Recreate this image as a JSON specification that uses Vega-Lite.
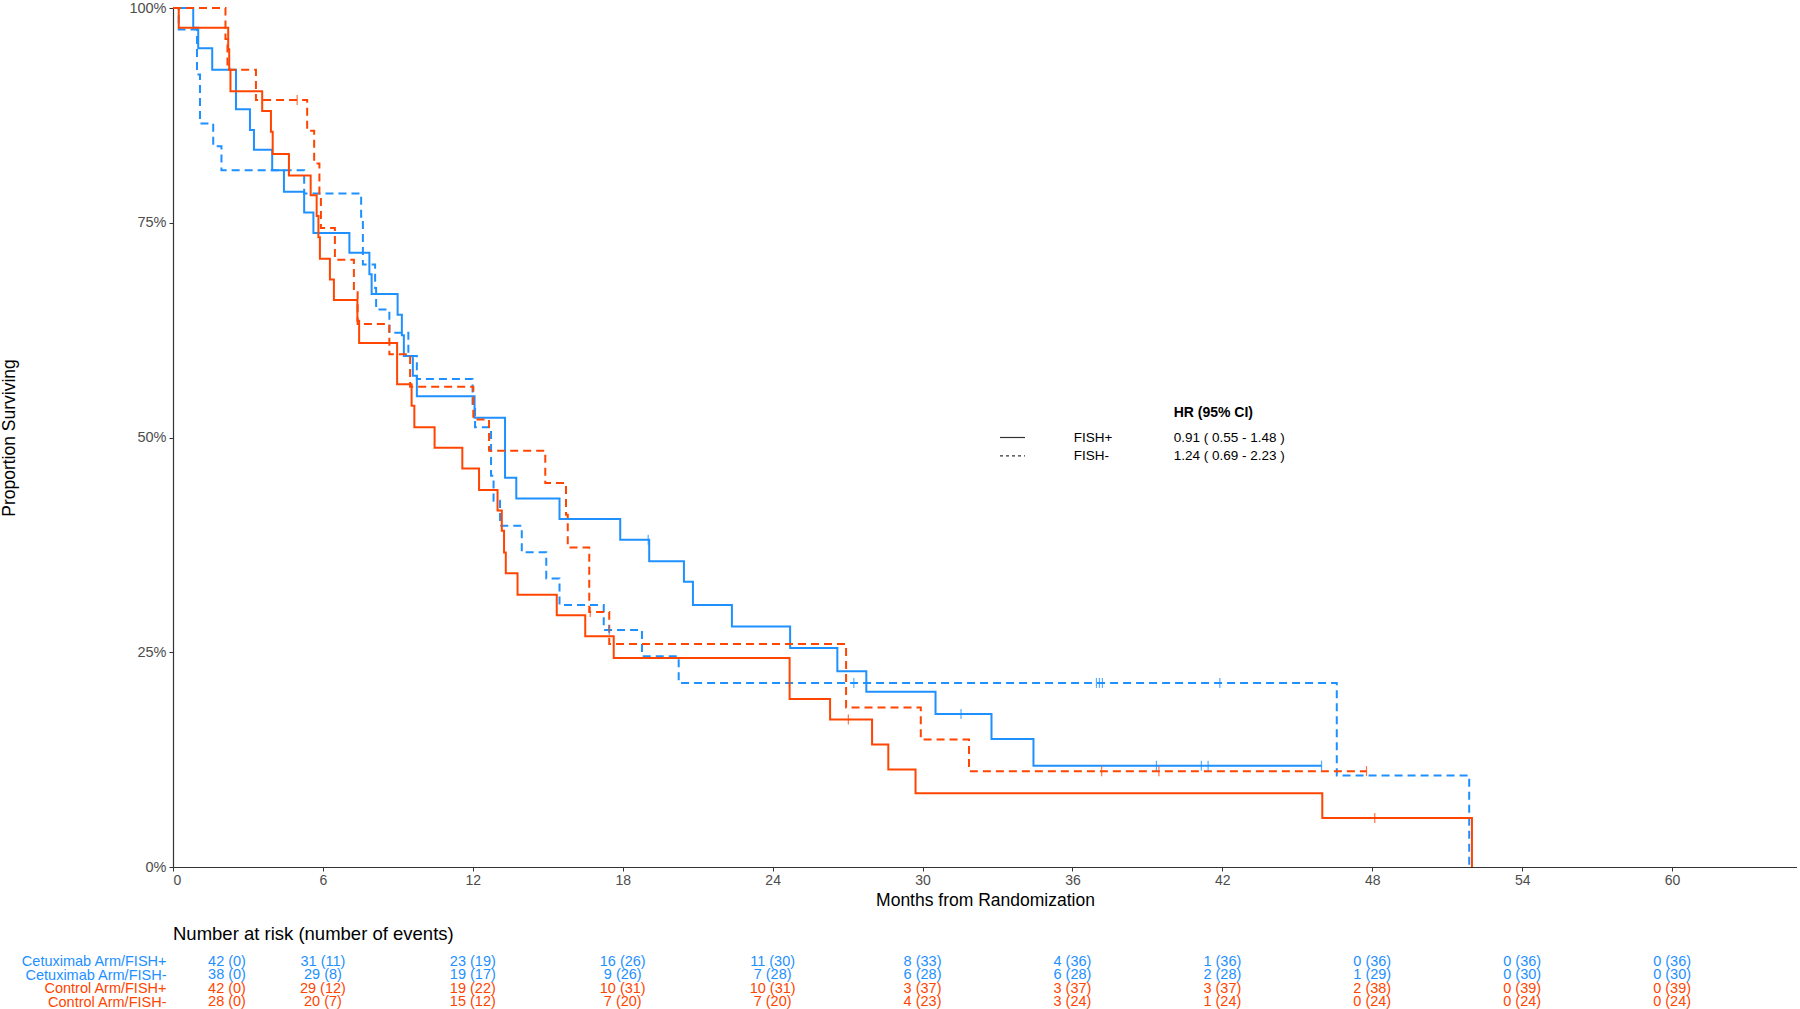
{
  "$schema": "https://vega.github.io/schema/vega-lite/v6.json",
  "padding": 0,
  "background": "white",
  "config": {
    "font": "Liberation Sans",
    "view": {"stroke": null},
    "axis": {"grid": false, "domainColor": "#333333", "tickColor": "#333333", "labelColor": "#4d4d4d", "titleColor": "#000000", "titleFontWeight": "normal"},
    "concat": {"spacing": 16}
  },
  "datasets": {
    "km": [
      {"arm": "Cetuximab Arm", "fish": "FISH+", "month": 0, "surv": 1},
      {"arm": "Cetuximab Arm", "fish": "FISH+", "month": 0.81, "surv": 0.977},
      {"arm": "Cetuximab Arm", "fish": "FISH+", "month": 1.01, "surv": 0.953},
      {"arm": "Cetuximab Arm", "fish": "FISH+", "month": 1.57, "surv": 0.928},
      {"arm": "Cetuximab Arm", "fish": "FISH+", "month": 2.52, "surv": 0.882},
      {"arm": "Cetuximab Arm", "fish": "FISH+", "month": 3.08, "surv": 0.858},
      {"arm": "Cetuximab Arm", "fish": "FISH+", "month": 3.24, "surv": 0.835},
      {"arm": "Cetuximab Arm", "fish": "FISH+", "month": 3.97, "surv": 0.811},
      {"arm": "Cetuximab Arm", "fish": "FISH+", "month": 4.44, "surv": 0.786},
      {"arm": "Cetuximab Arm", "fish": "FISH+", "month": 5.25, "surv": 0.762},
      {"arm": "Cetuximab Arm", "fish": "FISH+", "month": 5.62, "surv": 0.738},
      {"arm": "Cetuximab Arm", "fish": "FISH+", "month": 7.06, "surv": 0.715},
      {"arm": "Cetuximab Arm", "fish": "FISH+", "month": 7.86, "surv": 0.69},
      {"arm": "Cetuximab Arm", "fish": "FISH+", "month": 7.95, "surv": 0.667},
      {"arm": "Cetuximab Arm", "fish": "FISH+", "month": 8.99, "surv": 0.643},
      {"arm": "Cetuximab Arm", "fish": "FISH+", "month": 9.16, "surv": 0.619},
      {"arm": "Cetuximab Arm", "fish": "FISH+", "month": 9.24, "surv": 0.595},
      {"arm": "Cetuximab Arm", "fish": "FISH+", "month": 9.6, "surv": 0.572},
      {"arm": "Cetuximab Arm", "fish": "FISH+", "month": 9.76, "surv": 0.548},
      {"arm": "Cetuximab Arm", "fish": "FISH+", "month": 12.07, "surv": 0.523},
      {"arm": "Cetuximab Arm", "fish": "FISH+", "month": 13.29, "surv": 0.453},
      {"arm": "Cetuximab Arm", "fish": "FISH+", "month": 13.74, "surv": 0.429},
      {"arm": "Cetuximab Arm", "fish": "FISH+", "month": 15.47, "surv": 0.405},
      {"arm": "Cetuximab Arm", "fish": "FISH+", "month": 17.9, "surv": 0.381},
      {"arm": "Cetuximab Arm", "fish": "FISH+", "month": 19.06, "surv": 0.356},
      {"arm": "Cetuximab Arm", "fish": "FISH+", "month": 20.45, "surv": 0.332},
      {"arm": "Cetuximab Arm", "fish": "FISH+", "month": 20.81, "surv": 0.305},
      {"arm": "Cetuximab Arm", "fish": "FISH+", "month": 22.37, "surv": 0.28},
      {"arm": "Cetuximab Arm", "fish": "FISH+", "month": 24.7, "surv": 0.255},
      {"arm": "Cetuximab Arm", "fish": "FISH+", "month": 26.59, "surv": 0.228},
      {"arm": "Cetuximab Arm", "fish": "FISH+", "month": 27.75, "surv": 0.204},
      {"arm": "Cetuximab Arm", "fish": "FISH+", "month": 30.52, "surv": 0.178},
      {"arm": "Cetuximab Arm", "fish": "FISH+", "month": 32.76, "surv": 0.149},
      {"arm": "Cetuximab Arm", "fish": "FISH+", "month": 34.44, "surv": 0.118},
      {"arm": "Cetuximab Arm", "fish": "FISH+", "month": 45.97, "surv": 0.118},
      {"arm": "Cetuximab Arm", "fish": "FISH-", "month": 0, "surv": 1},
      {"arm": "Cetuximab Arm", "fish": "FISH-", "month": 0.23, "surv": 0.975},
      {"arm": "Cetuximab Arm", "fish": "FISH-", "month": 0.96, "surv": 0.9225},
      {"arm": "Cetuximab Arm", "fish": "FISH-", "month": 1.08, "surv": 0.8655},
      {"arm": "Cetuximab Arm", "fish": "FISH-", "month": 1.61, "surv": 0.839},
      {"arm": "Cetuximab Arm", "fish": "FISH-", "month": 1.94, "surv": 0.811},
      {"arm": "Cetuximab Arm", "fish": "FISH-", "month": 5.25, "surv": 0.784},
      {"arm": "Cetuximab Arm", "fish": "FISH-", "month": 7.53, "surv": 0.757},
      {"arm": "Cetuximab Arm", "fish": "FISH-", "month": 7.6, "surv": 0.7015},
      {"arm": "Cetuximab Arm", "fish": "FISH-", "month": 8.09, "surv": 0.674},
      {"arm": "Cetuximab Arm", "fish": "FISH-", "month": 8.13, "surv": 0.649},
      {"arm": "Cetuximab Arm", "fish": "FISH-", "month": 8.66, "surv": 0.622},
      {"arm": "Cetuximab Arm", "fish": "FISH-", "month": 9.42, "surv": 0.595},
      {"arm": "Cetuximab Arm", "fish": "FISH-", "month": 9.76, "surv": 0.568},
      {"arm": "Cetuximab Arm", "fish": "FISH-", "month": 11.99, "surv": 0.539},
      {"arm": "Cetuximab Arm", "fish": "FISH-", "month": 12.09, "surv": 0.512},
      {"arm": "Cetuximab Arm", "fish": "FISH-", "month": 12.73, "surv": 0.4555},
      {"arm": "Cetuximab Arm", "fish": "FISH-", "month": 12.83, "surv": 0.4264},
      {"arm": "Cetuximab Arm", "fish": "FISH-", "month": 13.09, "surv": 0.3973},
      {"arm": "Cetuximab Arm", "fish": "FISH-", "month": 13.96, "surv": 0.3663},
      {"arm": "Cetuximab Arm", "fish": "FISH-", "month": 14.94, "surv": 0.336},
      {"arm": "Cetuximab Arm", "fish": "FISH-", "month": 15.47, "surv": 0.305},
      {"arm": "Cetuximab Arm", "fish": "FISH-", "month": 17.24, "surv": 0.276},
      {"arm": "Cetuximab Arm", "fish": "FISH-", "month": 18.77, "surv": 0.2453},
      {"arm": "Cetuximab Arm", "fish": "FISH-", "month": 20.24, "surv": 0.2143},
      {"arm": "Cetuximab Arm", "fish": "FISH-", "month": 46.58, "surv": 0.1066},
      {"arm": "Cetuximab Arm", "fish": "FISH-", "month": 51.88, "surv": 0},
      {"arm": "Control Arm", "fish": "FISH+", "month": 0, "surv": 1},
      {"arm": "Control Arm", "fish": "FISH+", "month": 0.23, "surv": 0.977},
      {"arm": "Control Arm", "fish": "FISH+", "month": 2.21, "surv": 0.952},
      {"arm": "Control Arm", "fish": "FISH+", "month": 2.25, "surv": 0.928},
      {"arm": "Control Arm", "fish": "FISH+", "month": 2.3, "surv": 0.903},
      {"arm": "Control Arm", "fish": "FISH+", "month": 3.57, "surv": 0.88},
      {"arm": "Control Arm", "fish": "FISH+", "month": 3.92, "surv": 0.856},
      {"arm": "Control Arm", "fish": "FISH+", "month": 3.99, "surv": 0.83},
      {"arm": "Control Arm", "fish": "FISH+", "month": 4.64, "surv": 0.805},
      {"arm": "Control Arm", "fish": "FISH+", "month": 5.51, "surv": 0.782},
      {"arm": "Control Arm", "fish": "FISH+", "month": 5.75, "surv": 0.758},
      {"arm": "Control Arm", "fish": "FISH+", "month": 5.82, "surv": 0.733},
      {"arm": "Control Arm", "fish": "FISH+", "month": 5.88, "surv": 0.708},
      {"arm": "Control Arm", "fish": "FISH+", "month": 6.28, "surv": 0.684},
      {"arm": "Control Arm", "fish": "FISH+", "month": 6.44, "surv": 0.66},
      {"arm": "Control Arm", "fish": "FISH+", "month": 7.38, "surv": 0.636},
      {"arm": "Control Arm", "fish": "FISH+", "month": 7.45, "surv": 0.61},
      {"arm": "Control Arm", "fish": "FISH+", "month": 8.97, "surv": 0.562},
      {"arm": "Control Arm", "fish": "FISH+", "month": 9.55, "surv": 0.537},
      {"arm": "Control Arm", "fish": "FISH+", "month": 9.66, "surv": 0.512},
      {"arm": "Control Arm", "fish": "FISH+", "month": 10.47, "surv": 0.488},
      {"arm": "Control Arm", "fish": "FISH+", "month": 11.58, "surv": 0.464},
      {"arm": "Control Arm", "fish": "FISH+", "month": 12.25, "surv": 0.439},
      {"arm": "Control Arm", "fish": "FISH+", "month": 12.99, "surv": 0.415},
      {"arm": "Control Arm", "fish": "FISH+", "month": 13.16, "surv": 0.3915},
      {"arm": "Control Arm", "fish": "FISH+", "month": 13.25, "surv": 0.366},
      {"arm": "Control Arm", "fish": "FISH+", "month": 13.32, "surv": 0.342},
      {"arm": "Control Arm", "fish": "FISH+", "month": 13.79, "surv": 0.317},
      {"arm": "Control Arm", "fish": "FISH+", "month": 15.36, "surv": 0.293},
      {"arm": "Control Arm", "fish": "FISH+", "month": 16.5, "surv": 0.2686},
      {"arm": "Control Arm", "fish": "FISH+", "month": 17.64, "surv": 0.2434},
      {"arm": "Control Arm", "fish": "FISH+", "month": 24.68, "surv": 0.1957},
      {"arm": "Control Arm", "fish": "FISH+", "month": 26.3, "surv": 0.1717},
      {"arm": "Control Arm", "fish": "FISH+", "month": 27.98, "surv": 0.1427},
      {"arm": "Control Arm", "fish": "FISH+", "month": 28.63, "surv": 0.1136},
      {"arm": "Control Arm", "fish": "FISH+", "month": 29.72, "surv": 0.086},
      {"arm": "Control Arm", "fish": "FISH+", "month": 46.0, "surv": 0.057},
      {"arm": "Control Arm", "fish": "FISH+", "month": 51.99, "surv": 0},
      {"arm": "Control Arm", "fish": "FISH-", "month": 0, "surv": 1},
      {"arm": "Control Arm", "fish": "FISH-", "month": 2.1, "surv": 0.964},
      {"arm": "Control Arm", "fish": "FISH-", "month": 2.18, "surv": 0.928},
      {"arm": "Control Arm", "fish": "FISH-", "month": 3.32, "surv": 0.893},
      {"arm": "Control Arm", "fish": "FISH-", "month": 5.37, "surv": 0.857},
      {"arm": "Control Arm", "fish": "FISH-", "month": 5.65, "surv": 0.819},
      {"arm": "Control Arm", "fish": "FISH-", "month": 5.86, "surv": 0.782},
      {"arm": "Control Arm", "fish": "FISH-", "month": 5.92, "surv": 0.744},
      {"arm": "Control Arm", "fish": "FISH-", "month": 6.48, "surv": 0.707},
      {"arm": "Control Arm", "fish": "FISH-", "month": 7.24, "surv": 0.671},
      {"arm": "Control Arm", "fish": "FISH-", "month": 7.39, "surv": 0.632},
      {"arm": "Control Arm", "fish": "FISH-", "month": 8.66, "surv": 0.597},
      {"arm": "Control Arm", "fish": "FISH-", "month": 9.49, "surv": 0.559},
      {"arm": "Control Arm", "fish": "FISH-", "month": 12.02, "surv": 0.521},
      {"arm": "Control Arm", "fish": "FISH-", "month": 12.65, "surv": 0.4845},
      {"arm": "Control Arm", "fish": "FISH-", "month": 14.9, "surv": 0.447},
      {"arm": "Control Arm", "fish": "FISH-", "month": 15.73, "surv": 0.41},
      {"arm": "Control Arm", "fish": "FISH-", "month": 15.8, "surv": 0.372},
      {"arm": "Control Arm", "fish": "FISH-", "month": 16.66, "surv": 0.297},
      {"arm": "Control Arm", "fish": "FISH-", "month": 17.46, "surv": 0.2596},
      {"arm": "Control Arm", "fish": "FISH-", "month": 26.94, "surv": 0.1857},
      {"arm": "Control Arm", "fish": "FISH-", "month": 29.93, "surv": 0.1485},
      {"arm": "Control Arm", "fish": "FISH-", "month": 31.86, "surv": 0.1116},
      {"arm": "Control Arm", "fish": "FISH-", "month": 47.77, "surv": 0.1116}
    ],
    "censor": [
      {"arm": "Cetuximab Arm", "fish": "FISH+", "month": 19.02, "surv": 0.381},
      {"arm": "Cetuximab Arm", "fish": "FISH+", "month": 31.54, "surv": 0.178},
      {"arm": "Cetuximab Arm", "fish": "FISH+", "month": 39.36, "surv": 0.118},
      {"arm": "Cetuximab Arm", "fish": "FISH+", "month": 41.16, "surv": 0.118},
      {"arm": "Cetuximab Arm", "fish": "FISH+", "month": 41.43, "surv": 0.118},
      {"arm": "Cetuximab Arm", "fish": "FISH+", "month": 45.97, "surv": 0.118},
      {"arm": "Cetuximab Arm", "fish": "FISH-", "month": 17.46, "surv": 0.276},
      {"arm": "Cetuximab Arm", "fish": "FISH-", "month": 27.25, "surv": 0.2143},
      {"arm": "Cetuximab Arm", "fish": "FISH-", "month": 36.96, "surv": 0.2143},
      {"arm": "Cetuximab Arm", "fish": "FISH-", "month": 37.08, "surv": 0.2143},
      {"arm": "Cetuximab Arm", "fish": "FISH-", "month": 37.2, "surv": 0.2143},
      {"arm": "Cetuximab Arm", "fish": "FISH-", "month": 41.9, "surv": 0.2143},
      {"arm": "Control Arm", "fish": "FISH+", "month": 27.03, "surv": 0.1717},
      {"arm": "Control Arm", "fish": "FISH+", "month": 48.1, "surv": 0.057},
      {"arm": "Control Arm", "fish": "FISH-", "month": 4.97, "surv": 0.893},
      {"arm": "Control Arm", "fish": "FISH-", "month": 16.7, "surv": 0.297},
      {"arm": "Control Arm", "fish": "FISH-", "month": 37.17, "surv": 0.1116},
      {"arm": "Control Arm", "fish": "FISH-", "month": 39.46, "surv": 0.1116},
      {"arm": "Control Arm", "fish": "FISH-", "month": 47.77, "surv": 0.1116}
    ],
    "hr": [
      {"fish": "FISH+", "hr": "0.91 ( 0.55 - 1.48 )"},
      {"fish": "FISH-", "hr": "1.24 ( 0.69 - 2.23 )"}
    ],
    "risk": [
      {"row": "Cetuximab Arm/FISH+", "arm": "Cetuximab Arm", "month": 0, "label": "42 (0)"},
      {"row": "Cetuximab Arm/FISH+", "arm": "Cetuximab Arm", "month": 6, "label": "31 (11)"},
      {"row": "Cetuximab Arm/FISH+", "arm": "Cetuximab Arm", "month": 12, "label": "23 (19)"},
      {"row": "Cetuximab Arm/FISH+", "arm": "Cetuximab Arm", "month": 18, "label": "16 (26)"},
      {"row": "Cetuximab Arm/FISH+", "arm": "Cetuximab Arm", "month": 24, "label": "11 (30)"},
      {"row": "Cetuximab Arm/FISH+", "arm": "Cetuximab Arm", "month": 30, "label": "8 (33)"},
      {"row": "Cetuximab Arm/FISH+", "arm": "Cetuximab Arm", "month": 36, "label": "4 (36)"},
      {"row": "Cetuximab Arm/FISH+", "arm": "Cetuximab Arm", "month": 42, "label": "1 (36)"},
      {"row": "Cetuximab Arm/FISH+", "arm": "Cetuximab Arm", "month": 48, "label": "0 (36)"},
      {"row": "Cetuximab Arm/FISH+", "arm": "Cetuximab Arm", "month": 54, "label": "0 (36)"},
      {"row": "Cetuximab Arm/FISH+", "arm": "Cetuximab Arm", "month": 60, "label": "0 (36)"},
      {"row": "Cetuximab Arm/FISH-", "arm": "Cetuximab Arm", "month": 0, "label": "38 (0)"},
      {"row": "Cetuximab Arm/FISH-", "arm": "Cetuximab Arm", "month": 6, "label": "29 (8)"},
      {"row": "Cetuximab Arm/FISH-", "arm": "Cetuximab Arm", "month": 12, "label": "19 (17)"},
      {"row": "Cetuximab Arm/FISH-", "arm": "Cetuximab Arm", "month": 18, "label": "9 (26)"},
      {"row": "Cetuximab Arm/FISH-", "arm": "Cetuximab Arm", "month": 24, "label": "7 (28)"},
      {"row": "Cetuximab Arm/FISH-", "arm": "Cetuximab Arm", "month": 30, "label": "6 (28)"},
      {"row": "Cetuximab Arm/FISH-", "arm": "Cetuximab Arm", "month": 36, "label": "6 (28)"},
      {"row": "Cetuximab Arm/FISH-", "arm": "Cetuximab Arm", "month": 42, "label": "2 (28)"},
      {"row": "Cetuximab Arm/FISH-", "arm": "Cetuximab Arm", "month": 48, "label": "1 (29)"},
      {"row": "Cetuximab Arm/FISH-", "arm": "Cetuximab Arm", "month": 54, "label": "0 (30)"},
      {"row": "Cetuximab Arm/FISH-", "arm": "Cetuximab Arm", "month": 60, "label": "0 (30)"},
      {"row": "Control Arm/FISH+", "arm": "Control Arm", "month": 0, "label": "42 (0)"},
      {"row": "Control Arm/FISH+", "arm": "Control Arm", "month": 6, "label": "29 (12)"},
      {"row": "Control Arm/FISH+", "arm": "Control Arm", "month": 12, "label": "19 (22)"},
      {"row": "Control Arm/FISH+", "arm": "Control Arm", "month": 18, "label": "10 (31)"},
      {"row": "Control Arm/FISH+", "arm": "Control Arm", "month": 24, "label": "10 (31)"},
      {"row": "Control Arm/FISH+", "arm": "Control Arm", "month": 30, "label": "3 (37)"},
      {"row": "Control Arm/FISH+", "arm": "Control Arm", "month": 36, "label": "3 (37)"},
      {"row": "Control Arm/FISH+", "arm": "Control Arm", "month": 42, "label": "3 (37)"},
      {"row": "Control Arm/FISH+", "arm": "Control Arm", "month": 48, "label": "2 (38)"},
      {"row": "Control Arm/FISH+", "arm": "Control Arm", "month": 54, "label": "0 (39)"},
      {"row": "Control Arm/FISH+", "arm": "Control Arm", "month": 60, "label": "0 (39)"},
      {"row": "Control Arm/FISH-", "arm": "Control Arm", "month": 0, "label": "28 (0)"},
      {"row": "Control Arm/FISH-", "arm": "Control Arm", "month": 6, "label": "20 (7)"},
      {"row": "Control Arm/FISH-", "arm": "Control Arm", "month": 12, "label": "15 (12)"},
      {"row": "Control Arm/FISH-", "arm": "Control Arm", "month": 18, "label": "7 (20)"},
      {"row": "Control Arm/FISH-", "arm": "Control Arm", "month": 24, "label": "7 (20)"},
      {"row": "Control Arm/FISH-", "arm": "Control Arm", "month": 30, "label": "4 (23)"},
      {"row": "Control Arm/FISH-", "arm": "Control Arm", "month": 36, "label": "3 (24)"},
      {"row": "Control Arm/FISH-", "arm": "Control Arm", "month": 42, "label": "1 (24)"},
      {"row": "Control Arm/FISH-", "arm": "Control Arm", "month": 48, "label": "0 (24)"},
      {"row": "Control Arm/FISH-", "arm": "Control Arm", "month": 54, "label": "0 (24)"},
      {"row": "Control Arm/FISH-", "arm": "Control Arm", "month": 60, "label": "0 (24)"}
    ]
  },
  "vconcat": [
    {
      "width": 1624,
      "height": 859,
      "layer": [
        {
          "data": {"name": "km"},
          "mark": {"type": "line", "interpolate": "step-after", "strokeWidth": 2},
          "encoding": {
            "x": {"field": "month", "type": "quantitative",
                  "scale": {"domain": [0, 65], "nice": false, "zero": false},
                  "axis": {"values": [0, 6, 12, 18, 24, 30, 36, 42, 48, 54, 60], "title": "Months from Randomization",
                           "titleFontSize": 17.5, "labelFontSize": 14, "tickSize": 4, "labelPadding": 2, "titlePadding": 4, "domainWidth": 1.2}},
            "y": {"field": "surv", "type": "quantitative",
                  "scale": {"domain": [0, 1], "nice": false},
                  "axis": {"values": [0, 0.25, 0.5, 0.75, 1], "format": ".0%", "title": "Proportion Surviving",
                           "titleFontSize": 17.5, "labelFontSize": 14.5, "tickSize": 4, "labelPadding": 3, "titlePadding": 110, "domainWidth": 1.2}},
            "color": {"field": "arm", "type": "nominal", "scale": {"domain": ["Cetuximab Arm", "Control Arm"], "range": ["#1E90FF", "#FF4500"]}, "legend": null},
            "strokeDash": {"field": "fish", "type": "nominal", "scale": {"domain": ["FISH+", "FISH-"], "range": [[1, 0], [8, 5]]}, "legend": null}
          }
        },
        {
          "data": {"name": "censor"},
          "mark": {"type": "tick", "orient": "vertical", "size": 10, "thickness": 1.2, "opacity": 0.75},
          "encoding": {
            "x": {"field": "month", "type": "quantitative"},
            "y": {"field": "surv", "type": "quantitative"},
            "color": {"field": "arm", "type": "nominal", "legend": null}
          }
        },
        {
          "data": {"name": "hr"},
          "transform": [{"filter": "datum.fish == 'FISH+'"}],
          "mark": {"type": "rule", "color": "#333333", "strokeWidth": 1.2},
          "encoding": {"x": {"datum": 33.1, "type": "quantitative"}, "x2": {"datum": 34.1}, "y": {"datum": 0.5, "type": "quantitative"}}
        },
        {
          "data": {"name": "hr"},
          "transform": [{"filter": "datum.fish == 'FISH-'"}],
          "mark": {"type": "rule", "color": "#333333", "strokeWidth": 1.2, "strokeDash": [3, 3]},
          "encoding": {"x": {"datum": 33.1, "type": "quantitative"}, "x2": {"datum": 34.1}, "y": {"datum": 0.4785, "type": "quantitative"}}
        },
        {
          "data": {"name": "hr"},
          "transform": [{"filter": "datum.fish == 'FISH+'"}],
          "mark": {"type": "text", "align": "left", "baseline": "middle", "fontSize": 14, "color": "#000000", "fontWeight": "bold"},
          "encoding": {"x": {"datum": 40.05, "type": "quantitative"}, "y": {"datum": 0.529, "type": "quantitative"}, "text": {"value": "HR  (95% CI)"}}
        },
        {
          "data": {"name": "hr"},
          "transform": [{"filter": "datum.fish == 'FISH+'"}],
          "mark": {"type": "text", "align": "left", "baseline": "middle", "fontSize": 13.5, "color": "#000000"},
          "encoding": {"x": {"datum": 36.05, "type": "quantitative"}, "y": {"datum": 0.5, "type": "quantitative"}, "text": {"field": "fish"}}
        },
        {
          "data": {"name": "hr"},
          "transform": [{"filter": "datum.fish == 'FISH-'"}],
          "mark": {"type": "text", "align": "left", "baseline": "middle", "fontSize": 13.5, "color": "#000000"},
          "encoding": {"x": {"datum": 36.05, "type": "quantitative"}, "y": {"datum": 0.4785, "type": "quantitative"}, "text": {"field": "fish"}}
        },
        {
          "data": {"name": "hr"},
          "transform": [{"filter": "datum.fish == 'FISH+'"}],
          "mark": {"type": "text", "align": "left", "baseline": "middle", "fontSize": 13.5, "color": "#000000"},
          "encoding": {"x": {"datum": 40.05, "type": "quantitative"}, "y": {"datum": 0.5, "type": "quantitative"}, "text": {"field": "hr"}}
        },
        {
          "data": {"name": "hr"},
          "transform": [{"filter": "datum.fish == 'FISH-'"}],
          "mark": {"type": "text", "align": "left", "baseline": "middle", "fontSize": 13.5, "color": "#000000"},
          "encoding": {"x": {"datum": 40.05, "type": "quantitative"}, "y": {"datum": 0.4785, "type": "quantitative"}, "text": {"field": "hr"}}
        }
      ]
    },
    {
      "width": 1624,
      "height": 54,
      "title": {"text": "Number at risk (number of events)", "anchor": "start", "frame": "group", "fontSize": 18.5, "fontWeight": "normal", "color": "#000000", "offset": 10},
      "data": {"name": "risk"},
      "encoding": {
        "x": {"field": "month", "type": "quantitative", "scale": {"domain": [0, 65], "nice": false, "zero": false}, "axis": null},
        "y": {"field": "row", "type": "nominal",
              "scale": {"domain": ["Cetuximab Arm/FISH+", "Cetuximab Arm/FISH-", "Control Arm/FISH+", "Control Arm/FISH-"]},
              "axis": {"title": null, "domain": false, "ticks": false, "tickSize": 0, "labelPadding": 7, "labelFontSize": 14.5,
                       "labelColor": {"condition": {"test": "indexof(datum.value, 'Cetuximab') >= 0", "value": "#1E90FF"}, "value": "#FF4500"}}},
        "text": {"field": "label"},
        "color": {"field": "arm", "type": "nominal", "scale": {"domain": ["Cetuximab Arm", "Control Arm"], "range": ["#1E90FF", "#FF4500"]}, "legend": null}
      },
      "layer": [
        {"transform": [{"filter": "datum.month > 0"}], "mark": {"type": "text", "fontSize": 14.5, "baseline": "middle"}},
        {"transform": [{"filter": "datum.month == 0"}], "mark": {"type": "text", "fontSize": 14.5, "baseline": "middle", "dx": 54}}
      ]
    }
  ],
  "resolve": {"scale": {"x": "independent", "y": "independent", "color": "independent"}}
}
